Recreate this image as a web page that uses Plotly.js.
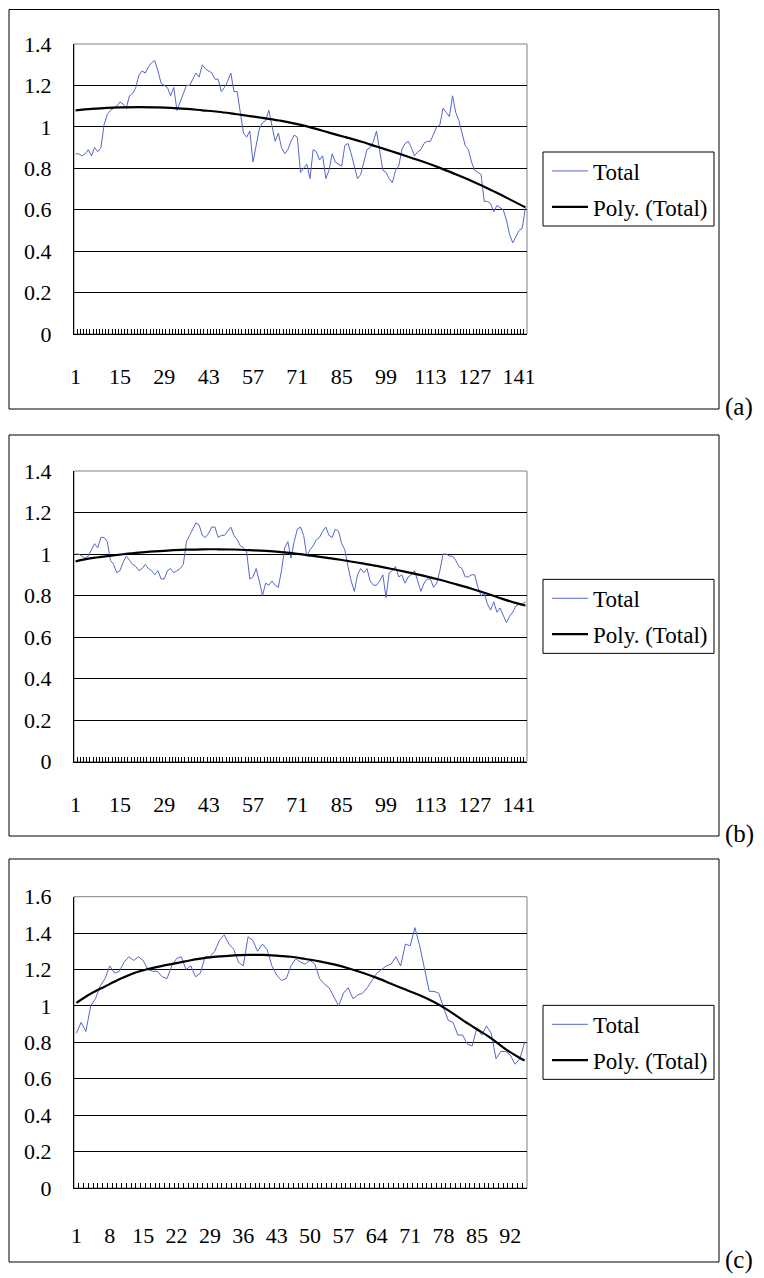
<!DOCTYPE html>
<html>
<head>
<meta charset="utf-8">
<script src="https://cdn.plot.ly/plotly-3.0.1.min.js"></script>
<style>html,body{margin:0;padding:0;background:#fff;}#chart{width:764px;height:1278px;}</style>
</head>
<body>
<div id="chart"></div>
<script>
// ---------- data ----------
const seriesNames = ['Total', 'Poly. (Total)'];
const panelLabels = ['(a)', '(b)', '(c)'];

const totalA = [
  0.87,0.87,0.86,0.87,0.89,0.86,0.90,0.88,0.90,1.01,
  1.06,1.08,1.09,1.10,1.12,1.11,1.09,1.15,1.16,1.19,
  1.25,1.27,1.26,1.29,1.31,1.32,1.27,1.21,1.20,1.19,
  1.15,1.19,1.08,1.12,1.17,1.20,1.20,1.23,1.26,1.24,
  1.30,1.28,1.27,1.26,1.23,1.23,1.17,1.19,1.22,1.26,
  1.17,1.17,1.07,0.97,0.95,0.98,0.83,0.92,0.99,1.02,
  1.03,1.08,1.00,0.93,0.97,0.90,0.87,0.89,0.93,0.96,
  0.95,0.78,0.80,0.82,0.75,0.89,0.88,0.84,0.86,0.75,
  0.79,0.87,0.83,0.82,0.81,0.91,0.92,0.87,0.81,0.75,
  0.77,0.83,0.89,0.90,0.93,0.98,0.89,0.79,0.78,0.75,
  0.73,0.79,0.81,0.89,0.92,0.93,0.90,0.86,0.88,0.89,
  0.92,0.93,0.93,0.97,1.00,1.01,1.09,1.07,1.05,1.15,
  1.07,1.03,0.97,0.91,0.89,0.83,0.79,0.78,0.77,0.64,
  0.64,0.63,0.59,0.62,0.61,0.60,0.55,0.48,0.44,0.47,
  0.50,0.51,0.61
];
const trendAX = [1,6,11,16,21,26,31,36,41,46,51,56,61,66,71,76,81,86,91,96,101,106,111,116,121,126,131,136,141,143];
const trendAY = [1.080,1.087,1.092,1.094,1.095,1.094,1.092,1.087,1.080,1.073,1.063,1.052,1.041,1.029,1.013,0.994,0.972,0.951,0.929,0.905,0.881,0.856,0.830,0.802,0.771,0.739,0.704,0.666,0.627,0.612];

const totalB = [
  1.00,1.00,0.99,0.98,0.99,1.02,1.05,1.03,1.08,1.08,
  1.06,0.97,0.95,0.91,0.92,0.96,0.99,0.97,0.95,0.94,
  0.92,0.93,0.95,0.93,0.92,0.90,0.92,0.88,0.88,0.92,
  0.93,0.91,0.92,0.93,0.95,1.06,1.09,1.12,1.15,1.14,
  1.09,1.08,1.10,1.13,1.13,1.08,1.09,1.09,1.11,1.13,
  1.09,1.07,1.04,1.03,1.01,0.88,0.89,0.93,0.87,0.80,
  0.86,0.85,0.87,0.85,0.84,0.92,1.03,1.06,0.98,1.06,
  1.12,1.13,1.09,0.99,1.02,1.04,1.07,1.08,1.11,1.13,
  1.09,1.08,1.12,1.11,1.05,1.02,0.94,0.87,0.82,0.90,
  0.93,0.91,0.93,0.87,0.85,0.85,0.87,0.90,0.79,0.91,
  0.92,0.94,0.89,0.90,0.86,0.89,0.90,0.92,0.87,0.82,
  0.86,0.88,0.88,0.84,0.86,0.92,1.00,1.00,0.99,0.99,
  0.97,0.94,0.93,0.89,0.89,0.90,0.90,0.84,0.80,0.81,
  0.76,0.73,0.77,0.72,0.74,0.70,0.67,0.70,0.72,0.75,
  0.76,0.76,0.77
];
const trendBX = [1,6,11,16,21,26,31,36,41,46,51,56,61,66,71,76,81,86,91,96,101,106,111,116,121,126,131,136,141,143];
const trendBY = [0.965,0.980,0.990,0.999,1.007,1.013,1.018,1.021,1.023,1.023,1.022,1.019,1.015,1.009,1.001,0.991,0.980,0.969,0.956,0.943,0.928,0.912,0.895,0.876,0.855,0.833,0.809,0.783,0.760,0.752];

const totalC = [
  0.85,0.91,0.86,1.00,1.04,1.11,1.15,1.22,1.18,1.19,
  1.24,1.27,1.25,1.27,1.25,1.20,1.19,1.19,1.16,1.15,
  1.22,1.26,1.27,1.20,1.22,1.16,1.18,1.27,1.27,1.30,
  1.36,1.39,1.34,1.31,1.24,1.22,1.38,1.36,1.30,1.34,
  1.31,1.22,1.17,1.14,1.15,1.22,1.26,1.24,1.23,1.25,
  1.23,1.15,1.12,1.10,1.05,1.00,1.07,1.10,1.04,1.06,
  1.07,1.10,1.14,1.18,1.20,1.22,1.23,1.27,1.22,1.34,
  1.33,1.43,1.33,1.21,1.08,1.08,1.07,0.99,0.92,0.91,
  0.84,0.84,0.79,0.78,0.88,0.84,0.89,0.85,0.71,0.75,
  0.75,0.73,0.68,0.71,0.80
];
const trendCX = [1,4,7,10,13,16,19,22,25,28,31,34,37,40,43,46,49,52,55,58,61,64,67,70,73,76,79,82,85,88,91,94,95];
const trendCY = [1.017,1.067,1.107,1.146,1.180,1.203,1.220,1.235,1.251,1.264,1.272,1.278,1.280,1.280,1.276,1.270,1.258,1.245,1.228,1.207,1.182,1.154,1.122,1.090,1.059,1.022,0.976,0.922,0.872,0.822,0.763,0.714,0.700];

const xTicksAB = [1,15,29,43,57,71,85,99,113,127,141];
const xTicksC = [1,8,15,22,29,36,43,50,57,64,71,78,85,92];
const yTicksAB = [0,0.2,0.4,0.6,0.8,1,1.2,1.4];
const yTickTextAB = ['0','0.2','0.4','0.6','0.8','1','1.2','1.4'];
const yTicksC = [0,0.2,0.4,0.6,0.8,1,1.2,1.4,1.6];
const yTickTextC = ['0','0.2','0.4','0.6','0.8','1','1.2','1.4','1.6'];

// ---------- layout geometry (pixels) ----------
const W = 764, H = 1278;
const FONT = "'Liberation Serif', 'Times New Roman', serif";
const px = x => x / W;
const py = y => 1 - y / H;
const plotL = 74, plotR = 527;
const panels = [
  {total: totalA, tx: trendAX, ty: trendAY, xt: xTicksAB, yt: yTicksAB, ytt: yTickTextAB, ymax: 1.4, top: 44, bot: 334, boxTop: 9.5, boxBot: 409, stand: 23},
  {total: totalB, tx: trendBX, ty: trendBY, xt: xTicksAB, yt: yTicksAB, ytt: yTickTextAB, ymax: 1.4, top: 471, bot: 761.7, boxTop: 435, boxBot: 836, stand: 23},
  {total: totalC, tx: trendCX, ty: trendCY, xt: xTicksC, yt: yTicksC, ytt: yTickTextC, ymax: 1.6, top: 896.7, bot: 1188, boxTop: 859, boxBot: 1262, stand: 28}
];
const boxL = 9, boxR = 719;
const legL = 543, legR = 714, legH = 74;

const data = [];
const layout = {
  width: W, height: H,
  margin: {l: 0, r: 0, t: 0, b: 0},
  paper_bgcolor: '#fff', plot_bgcolor: '#fff',
  font: {family: FONT, size: 22, color: '#000'},
  showlegend: true,
  shapes: [], annotations: []
};

panels.forEach((p, k) => {
  const n = p.total.length;
  const xs = [];
  for (let i = 1; i <= n; i++) xs.push(i);
  const sfx = k === 0 ? '' : String(k + 1);
  const leg = 'legend' + sfx;
  const midY = (p.top + p.bot) / 2;
  data.push({
    x: xs, y: p.total, type: 'scatter', mode: 'lines', name: seriesNames[0],
    line: {color: '#5468cc', width: 1}, xaxis: 'x' + sfx, yaxis: 'y' + sfx,
    legend: leg, legendgroup: 'g1_' + k, hoverinfo: 'skip'
  });
  data.push({
    x: p.tx, y: p.ty, type: 'scatter', mode: 'lines', name: seriesNames[1],
    line: {color: '#000', width: 2.2, shape: 'spline'}, xaxis: 'x' + sfx, yaxis: 'y' + sfx,
    legend: leg, legendgroup: 'g2_' + k, hoverinfo: 'skip'
  });
  layout['xaxis' + sfx] = {
    domain: [px(plotL), px(plotR)], anchor: 'y' + sfx,
    range: [0.5, n + 0.5], tickmode: 'array', tickvals: p.xt, ticktext: p.xt.map(String),
    ticks: 'inside', ticklen: 0, showgrid: false, zeroline: false,
    showline: true, linecolor: '#000', linewidth: 1,
    minor: {tickmode: 'linear', tick0: 0.5, dtick: 1, ticks: 'inside', ticklen: 5, tickcolor: '#000', tickwidth: 1, showgrid: false},
    tickfont: {family: FONT, size: 22, color: '#000'}, ticklabelstandoff: p.stand, fixedrange: true
  };
  layout['yaxis' + sfx] = {
    domain: [py(p.bot), py(p.top)], anchor: 'x' + sfx,
    range: [0, p.ymax], tickmode: 'array', tickvals: p.yt, ticktext: p.ytt,
    ticks: '', showgrid: true, gridcolor: '#000', gridwidth: 1, zeroline: false,
    showline: true, linecolor: '#000', linewidth: 1,
    tickfont: {family: FONT, size: 22, color: '#000'}, ticklabelstandoff: 17, fixedrange: true
  };
  layout[leg] = {
    x: px(547), xanchor: 'left', y: py(midY), yanchor: 'middle',
    borderwidth: 0, bgcolor: 'rgba(0,0,0,0)',
    font: {family: FONT, size: 23, color: '#000'},
    traceorder: 'grouped', tracegroupgap: 3, itemwidth: 36
  };
  // plot-area border (grey), legend frame and outer chart box (black)
  layout.shapes.push({type: 'rect', xref: 'paper', yref: 'paper', layer: 'below',
    x0: px(plotL), x1: px(plotR), y0: py(p.bot), y1: py(p.top), line: {color: '#808080', width: 1}});
  layout.shapes.push({type: 'rect', xref: 'paper', yref: 'paper', layer: 'below',
    x0: px(legL), x1: px(legR), y0: py(midY + legH / 2), y1: py(midY - legH / 2), line: {color: '#000', width: 1}});
  layout.shapes.push({type: 'rect', xref: 'paper', yref: 'paper',
    x0: px(boxL), x1: px(boxR), y0: py(p.boxBot), y1: py(p.boxTop), line: {color: '#000', width: 1}});
  layout.annotations.push({xref: 'paper', yref: 'paper', x: px(739), y: py(p.boxBot - 2),
    text: panelLabels[k], showarrow: false, xanchor: 'center', yanchor: 'middle',
    font: {family: FONT, size: 25, color: '#000'}});
});

Plotly.newPlot('chart', data, layout, {staticPlot: true, displayModeBar: false});
</script>
</body>
</html>
